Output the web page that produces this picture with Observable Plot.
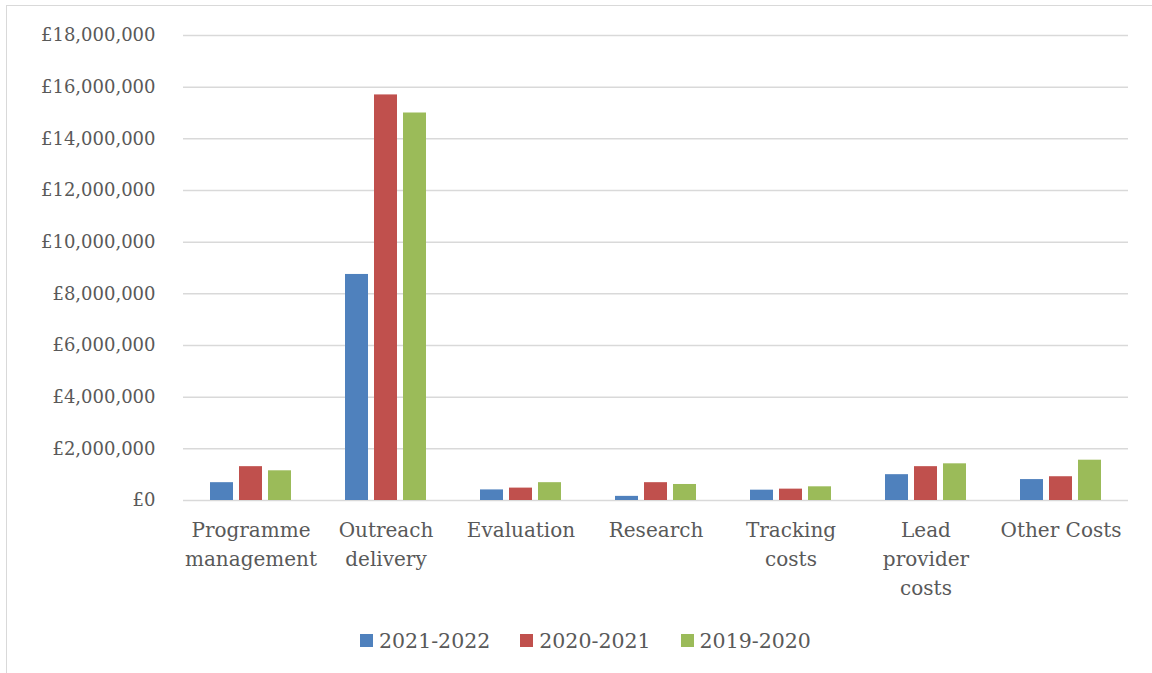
<!DOCTYPE html>
<html>
<head>
<meta charset="utf-8">
<script src="https://cdn.jsdelivr.net/npm/d3@7"></script>
<script src="https://cdn.jsdelivr.net/npm/@observablehq/plot@0.6"></script>
<style>
  html, body { margin: 0; padding: 0; background: #fff; }
  body { width: 1152px; height: 673px; position: relative; overflow: hidden; font-family: "DejaVu Serif", serif; }
  #frame { position: absolute; left: 6px; top: 5px; width: 1170px; height: 700px; border: 1.5px solid #d9d9d9; box-sizing: border-box; pointer-events: none; }
  #chart { position: absolute; left: 0; top: 0; }
  #legend { position: absolute; left: 360px; top: 624px; }
  #legend span { margin-right: 30px !important; }
  #legend span svg { margin-right: 6px !important; }
</style>
</head>
<body>
<div id="frame"></div>
<div id="chart"></div>
<div id="legend"></div>
<script>
const categories = ["Programme management", "Outreach delivery", "Evaluation", "Research", "Tracking costs", "Lead provider costs", "Other Costs"];
const categoryLabels = ["Programme\nmanagement", "Outreach\ndelivery", "Evaluation", "Research", "Tracking\ncosts", "Lead\nprovider\ncosts", "Other Costs"];
const series = ["2021-2022", "2020-2021", "2019-2020"];
const values2122 = [690000, 8750000, 410000, 160000, 400000, 1000000, 810000];
const values2021 = [1310000, 15700000, 480000, 690000, 440000, 1310000, 920000];
const values1920 = [1150000, 15000000, 690000, 620000, 530000, 1420000, 1560000];
const seriesColors = ["#4F81BD", "#C0504D", "#9BBB59"];
const yTicks = d3.range(0, 18000001, 2000000);

const seriesValues = [values2122, values2021, values1920];
const data = [];
categories.forEach((c, i) => {
  series.forEach((s, j) => data.push({category: c, series: s, value: seriesValues[j][i]}));
});
const labelOf = new Map(categories.map((c, i) => [c, categoryLabels[i]]));
const fmt = d => "£" + d3.format(",")(d);

const chart = Plot.plot({
  width: 1152,
  height: 610,
  marginLeft: 180,
  marginRight: 22,
  marginTop: 35,
  marginBottom: 110,
  style: {fontFamily: "DejaVu Serif", fontSize: "18px", color: "#595959", background: "transparent"},
  fx: {domain: categories, paddingInner: 0, paddingOuter: 0, label: null, axis: null},
  x: {domain: series, paddingInner: 0.2, paddingOuter: 0.86, axis: null},
  y: {domain: [0, 18000000], axis: null},
  color: {domain: series, range: seriesColors},
  marks: [
    Plot.gridY(yTicks, {stroke: "#d9d9d9", strokeOpacity: 1, strokeWidth: 1.5}),
    Plot.barY(data, {fx: "category", x: "series", y: "value", fill: "series"}),
    Plot.axisY(yTicks, {anchor: "left", tickSize: 0, tickPadding: 28, tickFormat: fmt, label: null, fill: "#595959", fontSize: 18}),
    Plot.axisFx({anchor: "bottom", tickSize: 0, tickPadding: 16, tickFormat: d => labelOf.get(d), label: null, lineHeight: 1.45, fontSize: 20, fill: "#595959"})
  ]
});
document.getElementById("chart").appendChild(chart);

const legend = Plot.legend({
  color: {domain: series, range: seriesColors},
  swatchSize: 13,
  style: {fontFamily: "DejaVu Serif", fontSize: "20.5px", color: "#595959", background: "transparent"}
});
document.getElementById("legend").appendChild(legend);
</script>
</body>
</html>
